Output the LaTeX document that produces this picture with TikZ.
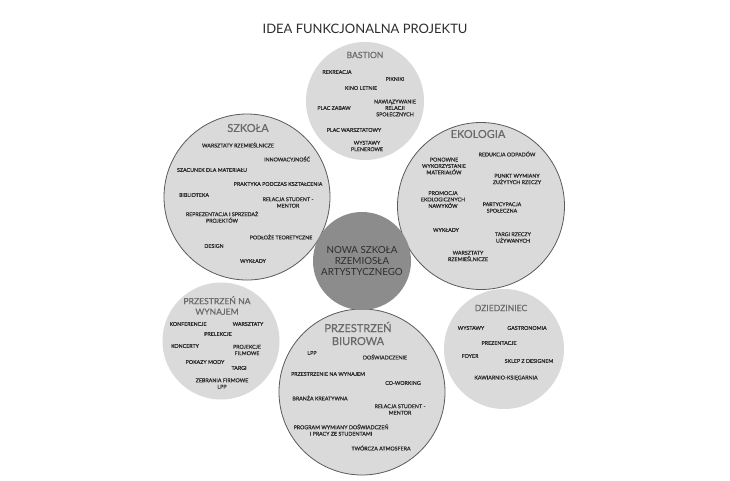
\documentclass[tikz,border=0pt]{standalone}
\usepackage{fontspec}
\setmainfont{Lato}
\newfontfamily\itemfont[FakeBold=0.9]{Lato}
\newfontfamily\headfont[FakeBold=0.5]{Lato}
\definecolor{zonegrey}{HTML}{DADADA}
\definecolor{hubgrey}{HTML}{8C8C8C}
\definecolor{linegrey}{HTML}{5A5A5A}
\definecolor{headgrey}{HTML}{6A6A6A}
\definecolor{itemgrey}{HTML}{2E2E2E}
\begin{document}
\begin{tikzpicture}[x=1pt,y=-1pt,
    zone/.style={circle, fill=zonegrey, inner sep=0pt},
    zoneline/.style={zone, draw=linegrey, line width=0.8pt},
    hub/.style={circle, fill=hubgrey, inner sep=0pt},
    heading/.style={text=headgrey, align=center, inner sep=0pt, font=\headfont\fontsize{11}{13}\selectfont},
    smallheading/.style={heading, font=\headfont\fontsize{8.6}{10.5}\selectfont},
    item/.style={text=itemgrey, align=center, inner sep=0pt, font=\itemfont\fontsize{5.3}{6.4}\selectfont}]
        \useasboundingbox[fill=white] (0,0) rectangle (730,480);

        % Title
        \node[text=itemgrey, font=\fontsize{13}{15}\selectfont] (title) at (365,29) {IDEA FUNKCJONALNA PROJEKTU};

        % Draw the small circles
        \node[zone, minimum size=118pt] (bastion) at (365,101) {};
        \node[zone, minimum size=117pt] (wynajem) at (221,341) {};
        \node[zone, minimum size=120pt] (dziedziniec) at (504,349) {};

        % Draw the big circles
        \node[zoneline, minimum size=166pt] (szkola) at (247,197) {};
        \node[zoneline, minimum size=167pt] (ekologia) at (481,206) {};
        \node[zoneline, minimum size=166pt] (biurowa) at (362,392) {};

        % Draw the centre
        \node[hub, minimum size=98pt] (centre) at (362,261) {};
        \node[text=itemgrey, align=center, font=\fontsize{9.8}{11}\selectfont] (centretext) at (centre) {NOWA SZKOŁA\\RZEMIOSŁA\\ARTYSTYCZNEGO};

        % Bastion
        \node[smallheading] (bastionhead) at (365,55) {BASTION};
        \node[item] (ba1) at (337,72) {REKREACJA};
        \node[item] (ba2) at (395,79) {PIKNIKI};
        \node[item] (ba3) at (361,88) {KINO LETNIE};
        \node[item] (ba4) at (395,108) {NAWIĄZYWANIE\\RELACJI\\SPOŁECZNYCH};
        \node[item] (ba5) at (334,108) {PLAC ZABAW};
        \node[item] (ba6) at (354,130) {PLAC WARSZTATOWY};
        \node[item] (ba7) at (367,146) {WYSTAWY\\PLENEROWE};

        % Szkola
        \node[heading] (szkolahead) at (248,128) {SZKOŁA};
        \node[item] (sz1) at (238,145) {WARSZTATY RZEMIEŚLNICZE};
        \node[item] (sz2) at (287,159) {INNOWACYJNOŚĆ};
        \node[item] (sz3) at (212,170) {SZACUNEK DLA MATERIAŁU};
        \node[item] (sz4) at (278,184) {PRAKTYKA PODCZAS KSZTAŁCENIA};
        \node[item] (sz5) at (194,195) {BIBLIOTEKA};
        \node[item] (sz6) at (288,202.5) {RELACJA STUDENT -\\MENTOR};
        \node[item] (sz7) at (222,217) {REPREZENTACJA I SPRZEDAŻ\\PROJEKTÓW};
        \node[item] (sz8) at (281,237) {PODŁOŻE TEORETYCZNE};
        \node[item] (sz9) at (214,246) {DESIGN};
        \node[item] (sz10) at (253,261) {WYKŁADY};

        % Ekologia
        \node[heading] (ekologiahead) at (478,134) {EKOLOGIA};
        \node[item] (ek1) at (507,154) {REDUKCJA ODPADÓW};
        \node[item] (ek2) at (444,166) {PONOWNE\\WYKORZYSTANIE\\MATERIAŁÓW};
        \node[item] (ek3) at (517,179) {PUNKT WYMIANY\\ZUŻYTYCH RZECZY};
        \node[item] (ek4) at (443,199.5) {PROMOCJA\\EKOLOGICZNYCH\\NAWYKÓW};
        \node[item] (ek5) at (502,207.5) {PARTYCYPACJA\\SPOŁECZNA};
        \node[item] (ek6) at (446,230) {WYKŁADY};
        \node[item] (ek7) at (513,237.5) {TARGI RZECZY\\UŻYWANYCH};
        \node[item] (ek8) at (468,256) {WARSZTATY\\RZEMIEŚLNICZE};

        % Przestrzen na wynajem
        \node[smallheading] (wynajemhead) at (217,305.5) {PRZESTRZEŃ NA\\WYNAJEM};
        \node[item] (wy1) at (188,324) {KONFERENCJE};
        \node[item] (wy2) at (248,324) {WARSZTATY};
        \node[item] (wy3) at (218,334) {PRELEKCJE};
        \node[item] (wy4) at (185,346) {KONCERTY};
        \node[item] (wy5) at (247,350) {PROJEKCJE\\FILMOWE};
        \node[item] (wy6) at (205,362) {POKAZY MODY};
        \node[item] (wy7) at (239,368) {TARGI};
        \node[item] (wy8) at (222,383.5) {ZEBRANIA FIRMOWE\\LPP};

        % Przestrzen biurowa
        \node[heading] (biurowahead) at (358,333.5) {PRZESTRZEŃ\\BIUROWA};
        \node[item] (bi1) at (312,353) {LPP};
        \node[item] (bi2) at (385,357) {DOŚWIADCZENIE};
        \node[item] (bi3) at (328,374) {PRZESTRZENIE NA WYNAJEM};
        \node[item] (bi4) at (403,383) {CO-WORKING};
        \node[item] (bi5) at (320,398) {BRANŻA KREATYWNA};
        \node[item] (bi6) at (400,409.5) {RELACJA STUDENT -\\MENTOR};
        \node[item] (bi7) at (341,430) {PROGRAM WYMIANY DOŚWIADCZEŃ\\I PRACY ZE STUDENTAMI};
        \node[item] (bi8) at (381,448) {TWÓRCZA ATMOSFERA};

        % Dziedziniec
        \node[smallheading] (dziedziniechead) at (501,308) {DZIEDZINIEC};
        \node[item] (dz1) at (471,328) {WYSTAWY};
        \node[item] (dz2) at (527,328) {GASTRONOMIA};
        \node[item] (dz3) at (499,343) {PREZENTACJE};
        \node[item] (dz4) at (470,356) {FOYER};
        \node[item] (dz5) at (529,361) {SKLEP Z DESIGNEM};
        \node[item] (dz6) at (506,378) {KAWIARNIO-KSIĘGARNIA};
    \end{tikzpicture}
\end{document}
